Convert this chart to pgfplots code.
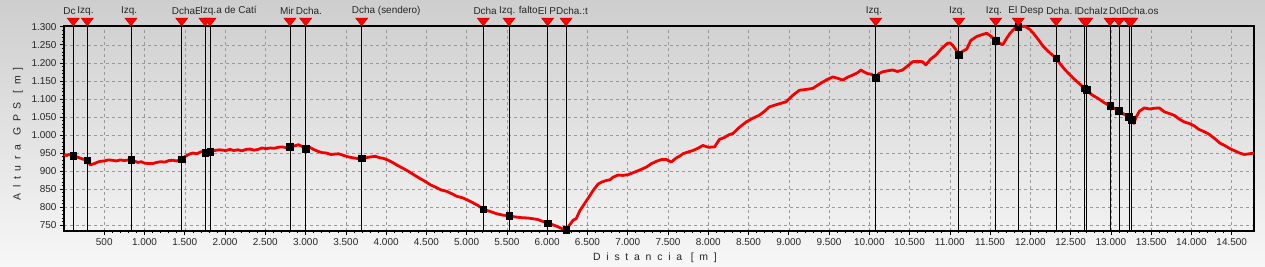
\documentclass[border=0pt]{standalone}
\usepackage{fontspec}
\setmainfont{Liberation Sans}
\usepackage{pgfplots}
\pgfplotsset{compat=1.18}
\usepackage{pgfplotstable}
\definecolor{bgtop}{RGB}{206,206,206}
\definecolor{bgbot}{RGB}{247,247,247}
\definecolor{prof}{RGB}{245,0,0}
\tikzset{lbl/.style={anchor=west, xshift=-10bp, yshift=15bp, fill=bgtop!97!bgbot,
    inner xsep=0pt, inner ysep=2bp, font=\fontsize{10}{12}\selectfont, text=black!85}}

\pgfplotstableread{
x elev bot top
115 942 734 1302
289 930 734 1302
832 931 734 1302
1462 933 734 1302
1751 951 734 1302
1813 954 734 1302
2806 967 734 1302
3001 962 734 1302
3697 936 734 1302
5207 794 734 1302
5526 776 734 1302
6006 756 734 1302
6234 737 734 1302
10080 1159 734 1302
11112 1223 734 1302
11570 1262 734 1302
11850 1300 734 1302
12319 1213 734 1302
12670 1130 734 1302
12700 1125 734 1302
12989 1081 734 1302
13100 1067 734 1302
13224 1050 734 1302
13259 1042 734 1302
}\wpts

\pgfplotstableread{
x y
0 946
30 943
60 946
90 944
115 942
150 940
200 936
250 932
289 930
310 922
330 917
350 919
380 921
420 925
452 927
500 928
550 931
600 930
650 928
700 931
750 929
800 931
832 931
870 928
920 924
960 926
1000 922
1050 921
1104 921
1150 924
1200 926
1255 925
1300 929
1350 930
1400 928
1462 933
1500 940
1556 947
1600 950
1650 948
1707 954
1751 951
1813 955
1870 957
1930 959
2008 957
2060 960
2110 957
2160 959
2209 956
2260 960
2310 961
2360 958
2409 960
2460 964
2510 962
2560 964
2610 963
2660 966
2710 967
2760 965
2806 967
2850 969
2911 973
2960 968
3001 962
3050 966
3100 960
3162 954
3210 951
3260 950
3313 946
3360 947
3410 948
3463 944
3520 940
3580 937
3640 935
3697 936
3750 937
3800 939
3865 941
3920 937
3970 935
4016 931
4080 924
4140 916
4216 907
4280 899
4350 889
4417 880
4480 872
4550 862
4618 855
4680 848
4750 844
4819 837
4880 830
4950 826
5019 819
5080 812
5140 805
5207 794
5280 789
5371 782
5450 778
5526 776
5600 773
5680 771
5760 770
5823 768
5880 766
5940 761
6006 756
6060 752
6120 747
6180 741
6234 737
6270 748
6322 764
6360 768
6405 790
6450 805
6488 818
6530 832
6570 846
6632 864
6680 870
6736 874
6780 876
6818 883
6880 889
6940 888
7004 890
7060 895
7107 899
7170 905
7231 911
7290 920
7355 927
7420 932
7479 932
7541 925
7600 936
7650 942
7686 948
7750 953
7810 957
7870 963
7934 971
8000 966
8078 967
8140 988
8200 993
8260 1001
8306 1004
8380 1020
8471 1036
8550 1046
8636 1055
8700 1066
8760 1078
8860 1085
8967 1092
9050 1110
9132 1124
9210 1126
9297 1129
9380 1141
9463 1152
9545 1161
9610 1157
9669 1152
9730 1160
9793 1166
9850 1172
9897 1180
9940 1174
9979 1170
10030 1168
10074 1159
10120 1170
10165 1175
10230 1178
10289 1180
10350 1176
10413 1180
10480 1192
10537 1203
10600 1204
10661 1203
10702 1194
10760 1210
10826 1221
10900 1240
10971 1254
11002 1255
11033 1249
11070 1238
11110 1222
11160 1232
11210 1238
11260 1262
11334 1273
11400 1278
11458 1282
11520 1272
11570 1262
11620 1254
11657 1250
11700 1266
11748 1282
11800 1294
11851 1301
11934 1301
11990 1293
12037 1282
12100 1264
12161 1245
12240 1228
12319 1213
12370 1197
12430 1181
12490 1167
12554 1153
12620 1140
12680 1128
12760 1112
12850 1100
12920 1089
12989 1081
13050 1073
13100 1067
13160 1058
13224 1050
13259 1042
13285 1032
13310 1048
13354 1066
13416 1075
13480 1072
13540 1074
13602 1075
13664 1064
13720 1060
13790 1054
13850 1044
13912 1036
13970 1032
14030 1026
14090 1016
14150 1010
14220 1002
14290 990
14350 978
14420 970
14480 962
14540 956
14600 950
14658 946
14720 948
14777 950
}\profile

\begin{document}
\begin{tikzpicture}
\useasboundingbox (0,0) rectangle (1265bp,267bp);
\shade[top color=bgtop, bottom color=bgbot] (0,0) rectangle (1265bp,267bp);
\begin{axis}[
  at={(64bp,36bp)}, anchor=south west,
  scale only axis, width=1190bp, height=205bp,
  xmin=0, xmax=14777, ymin=734, ymax=1302,
  clip=false,
  axis line style={black, line width=1.6bp},
  xtick={500,1000,...,14500},
  ytick={750,800,...,1300},
  minor x tick num=4, minor y tick num=4,
  xtick pos=bottom, ytick pos=left,
  tick align=outside, major tick length=4bp, minor tick length=2bp,
  every tick/.style={black, line width=0.6bp},
  grid=major,
  major grid style={gray!80, line width=0.5bp, dash pattern=on 3bp off 3bp},
  scaled ticks=false,
  /pgf/number format/.cd, 1000 sep={.}, assume math mode=true,
  /pgfplots/.cd,
  ticklabel style={font=\fontsize{10}{12}\selectfont, text=black!85},
]
\addplot[black, line width=0.8bp, quiver={u=0,v=582}] table[x=x,y=bot] {\wpts};
\addplot[prof, line width=2.8bp, line join=round] table[x=x,y=y] {\profile};
\addplot[only marks, mark=square*, mark size=3.3bp, black] table[x=x,y=elev] {\wpts};
\addplot[only marks, mark=triangle*, mark size=7bp,
  mark options={yshift=5.25bp, rotate=180, yscale=0.75, fill=red, draw=red!75!black, line width=0.4bp}]
  table[x=x,y=top] {\wpts};
\node[lbl] at (axis cs:115,1302) {Dc};
\node[lbl] at (axis cs:289,1302) {Izq.};
\node[lbl] at (axis cs:832,1302) {Izq.};
\node[lbl] at (axis cs:1462,1302) {Dcha};
\node[lbl] at (axis cs:1751,1302) {E};
\node[lbl] at (axis cs:1813,1302) {Izq.a de Catí};
\node[lbl] at (axis cs:2806,1302) {Mir};
\node[lbl] at (axis cs:3001,1302) {Dcha.};
\node[lbl] at (axis cs:3697,1302) {Dcha (sendero)};
\node[lbl] at (axis cs:5207,1302) {Dcha};
\node[lbl] at (axis cs:5526,1302) {Izq. falto};
\node[lbl] at (axis cs:6006,1302) {El P};
\node[lbl] at (axis cs:6234,1302) {Dcha.:t};
\node[lbl] at (axis cs:10080,1302) {Izq.};
\node[lbl] at (axis cs:11112,1302) {Izq.};
\node[lbl] at (axis cs:11570,1302) {Izq.};
\node[lbl] at (axis cs:11850,1302) {El Desp};
\node[lbl] at (axis cs:12319,1302) {Dcha.};
\node[lbl] at (axis cs:12670,1302) {I};
\node[lbl] at (axis cs:12700,1302) {Dcha};
\node[lbl] at (axis cs:12989,1302) {Iz};
\node[lbl] at (axis cs:13100,1302) {Dc};
\node[lbl] at (axis cs:13224,1302) {I};
\node[lbl] at (axis cs:13259,1302) {Dcha.os};
\end{axis}
\node[rotate=90, font=\fontsize{10.5}{12}\selectfont, text=black!85] at (18bp,133bp)
  {\addfontfeature{LetterSpace=55}Altura GPS [m]};
\node[font=\fontsize{10.5}{12}\selectfont, text=black!85] at (655bp,9bp)
  {\addfontfeature{LetterSpace=55}Distancia [m]};
\end{tikzpicture}
\end{document}
